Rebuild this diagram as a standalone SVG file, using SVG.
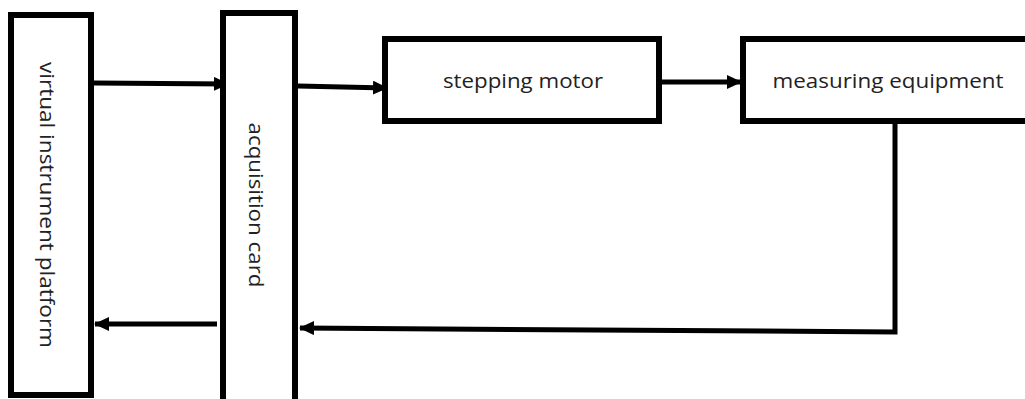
<svg xmlns="http://www.w3.org/2000/svg" width="1025" height="399" viewBox="0 0 1025 399">
<style>
.box{fill:#fff;stroke:#000;stroke-width:6}
.lbl{font-family:"Open Sans","Liberation Sans",sans-serif;font-size:20px;fill:#222;text-anchor:middle}
.conn{fill:none;stroke:#000;stroke-width:5}
</style>
<defs>
<marker id="ah" markerUnits="userSpaceOnUse" markerWidth="15" markerHeight="14" refX="14" refY="7" orient="auto">
<path d="M0,0 L15,7 L0,14 z" fill="#000"/>
</marker>
</defs>
<rect width="1025" height="399" fill="#fff"/>
<g id="connectors">
<line class="conn" x1="94" y1="83" x2="228" y2="84" marker-end="url(#ah)"/>
<line class="conn" x1="298" y1="86" x2="387" y2="88" marker-end="url(#ah)"/>
<line class="conn" x1="662" y1="82" x2="741" y2="82" marker-end="url(#ah)"/>
<polyline class="conn" points="895,124 895,332 300,328" marker-end="url(#ah)"/>
<line class="conn" x1="217" y1="324" x2="95" y2="324" marker-end="url(#ah)"/>
</g>
<g id="virtual-instrument-platform">
<rect class="box" x="11" y="15" width="80" height="380"/>
<text class="lbl" font-size="21" transform="translate(40,205) rotate(90)" textLength="286" lengthAdjust="spacingAndGlyphs">virtual instrument platform</text>
</g>
<g id="acquisition-card">
<rect class="box" x="223" y="13" width="72" height="392"/>
<text class="lbl" font-size="21" transform="translate(249,205) rotate(90)" textLength="165" lengthAdjust="spacingAndGlyphs">acquisition card</text>
</g>
<g id="stepping-motor">
<rect class="box" x="385" y="39" width="274" height="82"/>
<text class="lbl" x="523" y="88" textLength="160" lengthAdjust="spacingAndGlyphs">stepping motor</text>
</g>
<g id="measuring-equipment">
<rect class="box" x="743" y="39" width="300" height="82"/>
<text class="lbl" x="888" y="88" textLength="231" lengthAdjust="spacingAndGlyphs">measuring equipment</text>
</g>
</svg>
